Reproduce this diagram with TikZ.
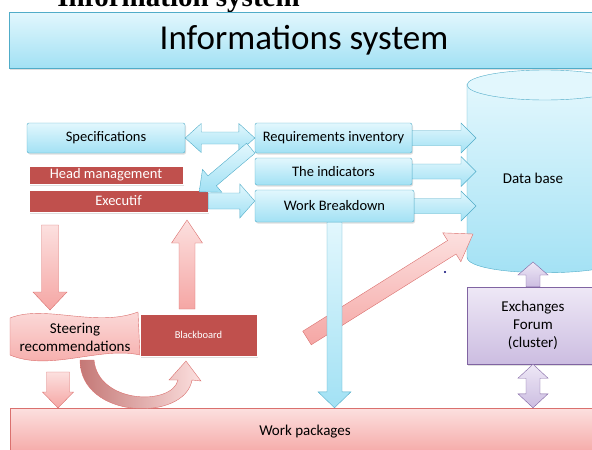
\documentclass[tikz,border=0pt]{standalone}
\usepackage{fontspec}
\setmainfont{Carlito}
\newfontfamily\headfont{Liberation Serif}
\usetikzlibrary{calc,shadows}

\definecolor{skyline}{RGB}{80,172,200}
\definecolor{skytop}{RGB}{226,247,253}
\definecolor{skybot}{RGB}{162,225,244}
\definecolor{brick}{RGB}{192,80,77}
\definecolor{roseline}{RGB}{218,112,110}
\definecolor{rosetop}{RGB}{252,224,223}
\definecolor{rosebot}{RGB}{245,166,164}
\definecolor{lilacline}{RGB}{128,100,162}
\definecolor{lilactop}{RGB}{238,232,246}
\definecolor{lilacbot}{RGB}{204,189,225}

% block arrow: style, from, to, half shaft, half head, head length
\newcommand\blockarrow[6]{%
  \coordinate (ba-b) at ($(#3)!#6!(#2)$);
  \path[#1] ($(#2)!#4!90:(#3)$) -- ($(ba-b)!#4!-90:(#2)$) -- ($(ba-b)!#5!-90:(#2)$)
    -- (#3) -- ($(ba-b)!#5!90:(#2)$) -- ($(ba-b)!#4!90:(#2)$) -- ($(#2)!#4!-90:(#3)$) -- cycle;
}
% same with a head at both ends
\newcommand\twinarrow[6]{%
  \coordinate (ba-a) at ($(#2)!#6!(#3)$);
  \coordinate (ba-b) at ($(#3)!#6!(#2)$);
  \path[#1] (#2) -- ($(ba-a)!#5!90:(#3)$) -- ($(ba-a)!#4!90:(#3)$) -- ($(ba-b)!#4!-90:(#2)$)
    -- ($(ba-b)!#5!-90:(#2)$) -- (#3) -- ($(ba-b)!#5!90:(#2)$) -- ($(ba-b)!#4!90:(#2)$)
    -- ($(ba-a)!#4!-90:(#3)$) -- ($(ba-a)!#5!-90:(#3)$) -- cycle;
}

\begin{document}
\begin{tikzpicture}[x=1pt,y=-1pt,
  txt/.style={font=\fontsize{14.5}{18}\selectfont},
  shade box/.style={drop shadow={opacity=.25,shadow xshift=1pt,shadow yshift=-1.5pt}},
  sky/.style={draw=skyline, top color=skytop, bottom color=skybot},
  skybox/.style={sky, txt, shade box, rounded corners=2pt, inner sep=0pt},
  brickbox/.style={fill=brick, draw=white, text=white, txt, shade box, inner sep=0pt},
  rose/.style={draw=roseline, top color=rosetop, bottom color=rosebot},
  lilac/.style={draw=lilacline, top color=lilactop, bottom color=lilacbot}]
\useasboundingbox (0,0) rectangle (592,450);
\clip (0,0) rectangle (592,450);

% heading
\node[anchor=base, font=\headfont\bfseries\fontsize{29}{30}\selectfont] (title) at (178.5,6) {Information system};
\node[sky, shade box, minimum width=590pt, minimum height=56pt, font=\fontsize{35}{37}\selectfont] (sys) at (304,40) {Informations system};

% data base
\path[sky] (467,84) -- (467,257) .. controls (467,278) and (623,278) .. (623,257) -- (623,84) -- cycle;
\filldraw[draw=skyline, fill=skytop] (545,85) ellipse [x radius=78, y radius=15];
\node[font=\fontsize{15}{18}\selectfont] (db) at (533,178) {Data base};
\coordinate (dbin) at (476,0);

% boxes
\node[skybox, minimum width=158pt, minimum height=30pt] (spec) at (106,138) {Specifications};
\node[brickbox, minimum width=154pt, minimum height=18pt] (head) at (106,175) {Head management};
\node[brickbox, minimum width=179pt, minimum height=22pt] (exec) at (118.5,201) {Executif};
\node[skybox, minimum width=157pt, minimum height=30pt] (req) at (333.5,138) {Requirements inventory};
\node[skybox, minimum width=157pt, minimum height=27pt] (ind) at (333.5,171.5) {The indicators};
\node[skybox, minimum width=159pt, minimum height=32pt] (wbd) at (334.5,206) {Work Breakdown};
\node[lilac, shade box, minimum width=132pt, minimum height=77pt, align=center, font=\fontsize{15}{18}\selectfont] (forum) at (533,325.5) {Exchanges\\Forum\\(cluster)};

% steering and blackboard
\path[rose] (10,318) .. controls (45,304) and (95,328) .. (138,312) -- (140,355)
  .. controls (100,346) and (50,372) .. (10,355) -- cycle;
\node[align=center, font=\fontsize{15}{18}\selectfont] (steer) at (75,337) {Steering\\recommendations};
\node[brickbox, minimum width=117pt, minimum height=42pt, font=\fontsize{10.5}{12}\selectfont] (board) at (198.5,335) {Blackboard};
\node[rose, minimum width=590pt, minimum height=48pt, font=\fontsize{15}{18}\selectfont] (wp) at (305,432) {Work packages};

% red arrows
\coordinate (ex-s) at (50,225);
\coordinate (st-n) at (50,310);
\blockarrow{rose}{ex-s}{st-n}{8.5pt}{17pt}{18pt}
\coordinate (bd-n) at (187,309);
\coordinate (ex-n) at (187,220);
\blockarrow{rose}{bd-n}{ex-n}{8pt}{15.5pt}{23pt}
\coordinate (st-s) at (58,372);
\coordinate (wp-n) at (58,408);
\blockarrow{rose}{st-s}{wp-n}{11.5pt}{15.5pt}{16pt}
\coordinate (wp-t) at (307,338);
\coordinate (db-t) at (473,234);
\blockarrow{rose}{wp-t}{db-t}{8pt}{17pt}{25pt}
\path[draw=roseline, left color={rgb,255:red,196;green,120;blue,118}, right color=rosetop]
  (80,360) .. controls (80,420) and (185,422) .. (192,380) -- (201,381) -- (186,361)
  -- (169,380) -- (178,380) .. controls (172,406) and (98,404) .. (94,360) -- cycle;

% sky arrows
\twinarrow{sky}{spec.east}{req.west}{6pt}{14.5pt}{16pt}
\coordinate (rq-t) at ($(req.south west)+(-4,-5)$);
\coordinate (ex-t) at ($(exec.north east)+(-9,2)$);
\blockarrow{sky}{rq-t}{ex-t}{6.5pt}{15pt}{17pt}
\coordinate (wb-in) at (exec.east -| wbd.west);
\blockarrow{sky}{exec.east}{wb-in}{8pt}{17pt}{15pt}
\foreach \bx in {req,ind,wbd} {
  \coordinate (\bx-db) at (\bx.east -| dbin);
  \blockarrow{sky}{\bx.east}{\bx-db}{7.5pt}{15pt}{15pt}
}
\coordinate (wb-wp) at (wbd.south |- wp.north);
\blockarrow{sky}{wbd.south}{wb-wp}{7.5pt}{16.5pt}{16pt}

% lilac arrows
\coordinate (fo-db) at (533,262);
\blockarrow{lilac}{forum.north}{fo-db}{7pt}{15pt}{13pt}
\coordinate (fo-wp) at (forum.south |- wp.north);
\twinarrow{lilac}{forum.south}{fo-wp}{7pt}{15pt}{14pt}

\fill[blue!45!black] (445,272) circle (1.2);
\end{tikzpicture}
\end{document}
